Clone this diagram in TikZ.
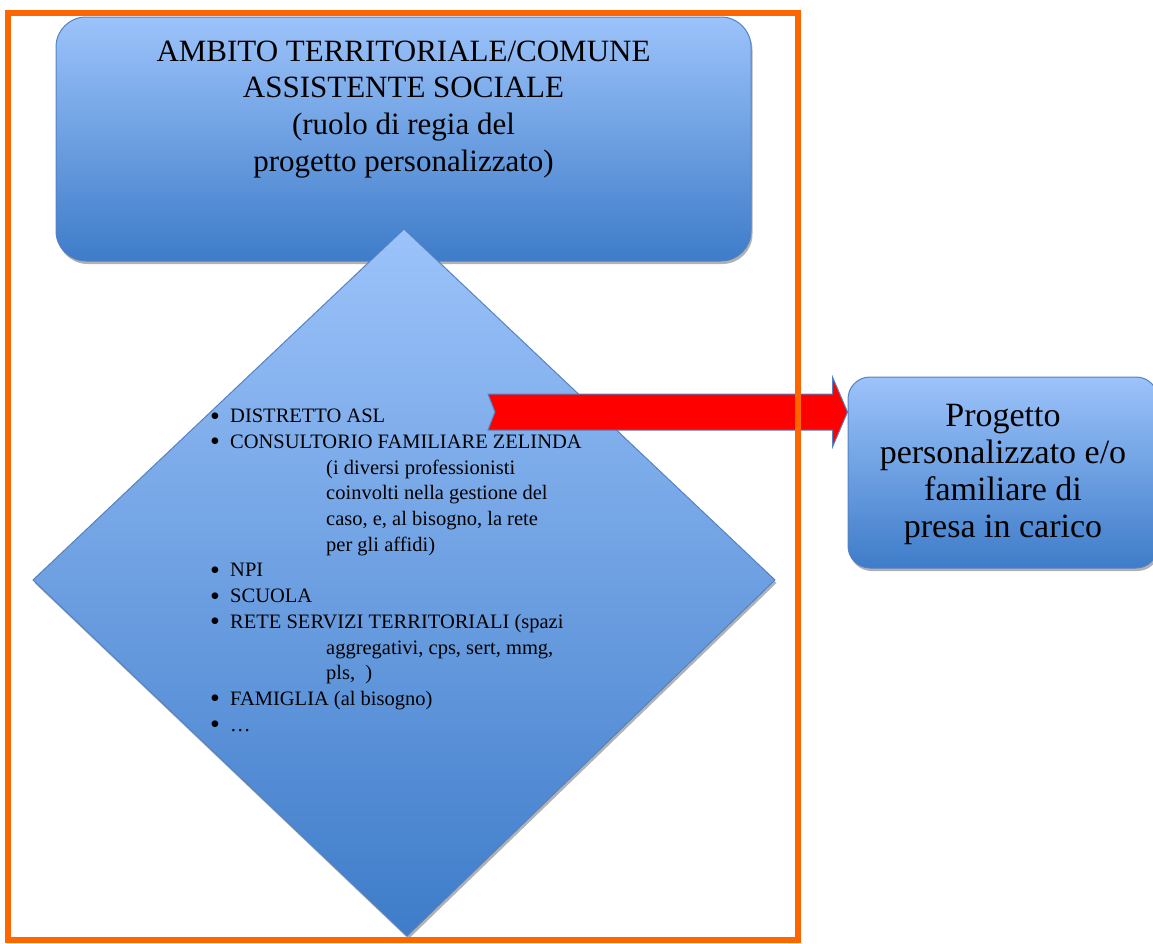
\documentclass[tikz,border=0pt]{standalone}
\usepackage{fontspec}
\setmainfont{Liberation Serif}
\usetikzlibrary{shadows}
\definecolor{bluetop}{RGB}{156,195,250}
\definecolor{bluebot}{RGB}{62,124,201}
\definecolor{blueedge}{RGB}{84,130,195}
\definecolor{frameorange}{RGB}{255,102,0}
\definecolor{arrowred}{RGB}{255,0,0}
\newcommand{\bul}{\makebox[20pt][l]{\smash{\raisebox{-2.5pt}{\fontsize{28}{28}\selectfont\textbullet}}}}
\newcommand{\ind}{\hspace*{116pt}}
\tikzset{
  blueshape/.style={draw=blueedge, line width=1pt, top color=bluetop, bottom color=bluebot,
    drop shadow={shadow xshift=1.5pt, shadow yshift=-3pt, opacity=0.3, fill=black}},
  bigtext/.style={font=\fontsize{31}{36.7}\selectfont, align=center, inner sep=0pt},
  listtext/.style={font=\fontsize{20.5}{25.7}\selectfont, align=left, inner sep=0pt},
  righttext/.style={font=\fontsize{34}{37}\selectfont, align=center, inner sep=0pt},
}
\begin{document}
\begin{tikzpicture}[x=1pt,y=-1pt]
\useasboundingbox (0,0) rectangle (1153,943);
\clip (0,0) rectangle (1153,943);
% top box
\node[blueshape, rounded corners=30pt, minimum width=695pt, minimum height=244pt, inner sep=0pt] (amb) at (403.5,139) {};
\node[bigtext, anchor=north] (ambtext) at ([yshift=-24pt]amb.north) {AMBITO TERRITORIALE/COMUNE\\ASSISTENTE SOCIALE\\(ruolo di regia del\\progetto personalizzato)};
% diamond
\coordinate (dT) at (404,229);
\coordinate (dR) at (775,580);
\coordinate (dB) at (407,936);
\coordinate (dL) at (33,580);
\path[blueshape, line join=miter] (dT) -- (dR) -- (dB) -- (dL) -- cycle;
% right box
\node[blueshape, rounded corners=22pt, minimum width=310pt, minimum height=191pt, inner sep=0pt] (prog) at (1003,472.5) {};
\node[righttext] (progtext) at ([yshift=-2pt]prog.center) {Progetto\\personalizzato e/o\\familiare di\\presa in carico};
% arrow
\coordinate (atail) at (488,412);
\coordinate (atip) at (prog.west |- atail);
\path[fill=arrowred, draw=blueedge, line width=1pt, line join=miter]
  ([shift={(0,-18)}]atail) -- ([shift={(-15,-18)}]atip) -- ([shift={(-15,-35)}]atip)
  -- (atip) -- ([shift={(-15,35)}]atip) -- ([shift={(-15,18)}]atip)
  -- ([shift={(0,18)}]atail) -- ([shift={(7,0)}]atail) -- cycle;
% list
\node[listtext, anchor=north west] (lst) at (210,409) {%
\bul DISTRETTO ASL\\
\bul CONSULTORIO FAMILIARE ZELINDA\\
\ind(i diversi professionisti\\
\ind coinvolti nella gestione del\\
\ind caso, e, al bisogno, la rete\\
\ind per gli affidi)\\
\bul NPI\\
\bul SCUOLA\\
\bul RETE SERVIZI TERRITORIALI (spazi\\
\ind aggregativi, cps, sert, mmg,\\
\ind pls,\ \ )\\
\bul FAMIGLIA (al bisogno)\\
\bul\dots};
% frame
\draw[frameorange, line width=6pt] (8,13) rectangle (798,940);
\end{tikzpicture}
\end{document}
